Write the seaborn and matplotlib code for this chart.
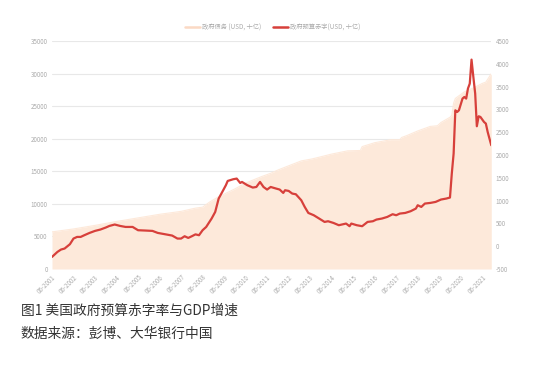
import matplotlib
matplotlib.use("Agg")
import matplotlib.pyplot as plt
from matplotlib.lines import Line2D
import seaborn as sns
import pandas as pd

# ---------------- data ----------------
debt_dates = ["2001-06", "2002-06", "2003-06", "2004-06", "2005-06", "2006-06", "2007-06",
              "2008-02", "2008-06", "2008-10", "2009-03", "2009-06", "2009-12", "2010-06",
              "2011-03", "2011-08", "2011-12", "2012-06", "2013-01", "2013-07", "2013-10",
              "2014-06", "2015-03", "2015-10", "2015-11", "2016-06", "2017-03", "2017-08",
              "2017-09", "2017-12", "2018-06", "2019-01", "2019-05", "2019-07", "2019-12",
              "2020-01", "2020-02", "2020-03", "2020-08", "2021-01", "2021-06", "2021-08",
              "2021-11"]
debt_values = [5700, 6150, 6700, 7300, 7850, 8400, 8850,
               9350, 9500, 10300, 11100, 11500, 12300, 13200,
               14200, 14700, 15200, 15850, 16600, 16900, 17100,
               17650, 18150, 18200, 18800, 19400, 19850, 19850,
               20200, 20500, 21200, 21900, 22000, 22500, 23300,
               23600, 25500, 26200, 27200, 27800, 28500, 28700,
               30000]

deficit_dates = ["2001-06", "2001-09", "2001-11", "2002-01", "2002-04", "2002-06", "2002-08",
                 "2002-10", "2002-12", "2003-03", "2003-06", "2003-09", "2003-12", "2004-02",
                 "2004-05", "2004-08", "2004-11", "2005-03", "2005-06", "2005-10", "2006-02",
                 "2006-05", "2006-09", "2007-01", "2007-04", "2007-06", "2007-08", "2007-10",
                 "2007-12", "2008-02", "2008-04", "2008-06", "2008-08", "2008-11", "2009-01",
                 "2009-03", "2009-05", "2009-07", "2009-08", "2009-11", "2010-01", "2010-03",
                 "2010-04", "2010-07", "2010-10", "2010-12", "2011-02", "2011-04", "2011-06",
                 "2011-08", "2011-11", "2012-01", "2012-03", "2012-04", "2012-06", "2012-08",
                 "2012-10", "2013-01", "2013-03", "2013-05", "2013-08", "2013-11", "2014-02",
                 "2014-04", "2014-07", "2014-10", "2015-02", "2015-04", "2015-05", "2015-08",
                 "2015-11", "2016-02", "2016-05", "2016-07", "2016-10", "2017-01", "2017-04",
                 "2017-06", "2017-08", "2017-11", "2018-02", "2018-05", "2018-06", "2018-08",
                 "2018-10", "2019-01", "2019-04", "2019-07", "2019-10", "2019-12", "2020-01",
                 "2020-02", "2020-03", "2020-04", "2020-05", "2020-07", "2020-08", "2020-09",
                 "2020-10", "2020-11", "2020-12", "2021-01", "2021-02", "2021-03", "2021-04",
                 "2021-05", "2021-07", "2021-08", "2021-09", "2021-11"]
deficit_values = [-235, -125, -73, -51, 44, 168, 204,
                  204, 241, 292, 336, 366, 410, 445,
                  476, 445, 423, 423, 351, 344, 336,
                  292, 263, 234, 168, 168, 219, 182,
                  219, 260, 241, 351, 423, 607, 752,
                  1046, 1191, 1338, 1432, 1469, 1484, 1388,
                  1410, 1338, 1287, 1300, 1410, 1300, 1243,
                  1300, 1265, 1243, 1169, 1228, 1213, 1155,
                  1140, 1009, 862, 730, 680, 607, 533,
                  548, 511, 461, 497, 439, 497, 461,
                  439, 533, 548, 585, 607, 643, 702,
                  680, 716, 730, 768, 826, 899, 862,
                  936, 950, 972, 1024, 1046, 1068, 1594,
                  2033, 2982, 2945, 2982, 3239, 3274, 3239,
                  3458, 3568, 4094, 3713, 3349, 2632, 2851,
                  2836, 2726, 2691, 2507, 2215]

tick_years = list(range(2001, 2022))
left_ticks = [0, 5000, 10000, 15000, 20000, 25000, 30000, 35000]
right_ticks = [-500, 0, 500, 1000, 1500, 2000, 2500, 3000, 3500, 4000, 4500]

legend_labels = ["政府债务 (USD, 十亿)", "政府预算赤字(USD, 十亿)"]
title_text = "图1 美国政府预算赤字率与GDP增速"
source_text = "数据来源：彭博、大华银行中国"

# ---------------- frames ----------------
debt = pd.DataFrame({"date": pd.to_datetime(debt_dates), "value": debt_values})
deficit = pd.DataFrame({"date": pd.to_datetime(deficit_dates), "value": deficit_values})

sns.set_theme(style="white")
plt.rcParams["font.family"] = ["Noto Sans CJK SC", "DejaVu Sans"]

AREA = "#fde9da"
RED = "#d7403b"
TICKC = "#ababab"
GRID = "#e8e8e8"

fig = plt.figure(figsize=(5.45, 3.67), dpi=100)
ax = fig.add_axes([0.0954, 0.267, 0.806, 0.621])
ax2 = ax.twinx()

ax.fill_between(debt["date"], debt["value"], 0, color=AREA, lw=0, zorder=2)
sns.lineplot(data=debt, x="date", y="value", ax=ax, color=AREA, lw=0.8, zorder=3)
sns.lineplot(data=deficit, x="date", y="value", ax=ax2, color=RED, lw=1.6, zorder=4)

ax.set_ylim(0, 35000)
ax2.set_ylim(-500, 4500)
ax.set_xlim(pd.Timestamp("2001-06-01"), pd.Timestamp("2021-11-01"))

ax.set_yticks(left_ticks)
ax.set_yticklabels([str(v) for v in left_ticks])
ax2.set_yticks(right_ticks)
ax2.set_yticklabels([str(v) for v in right_ticks])

xt = [pd.Timestamp(f"{y}-06-01") for y in tick_years]
ax.set_xticks(xt)
ax.set_xticklabels([f"06-{y}" for y in tick_years], rotation=45, ha="right",
                   rotation_mode="anchor")

for a in (ax, ax2):
    a.set_xlabel("")
    a.set_ylabel("")
    for s in a.spines.values():
        s.set_visible(False)
    a.tick_params(axis="both", length=0, labelsize=4.5, labelcolor=TICKC, pad=3)
    a.grid(False)

ax.set_axisbelow(True)
ax.yaxis.grid(True, color=GRID, lw=0.8, zorder=0)

handles = [Line2D([], [], color="#fbd9c4", lw=1.8), Line2D([], [], color=RED, lw=1.8)]
fig.legend(handles, legend_labels, loc="center", bbox_to_anchor=(0.5, 0.926), ncol=2,
           frameon=False, fontsize=4.5, labelcolor=TICKC, handlelength=2.4,
           columnspacing=1.8, handletextpad=0.4)

fig.text(0.038, 0.152, title_text, fontsize=9.9, color="#333333", va="center", ha="left")
fig.text(0.038, 0.090, source_text, fontsize=9.9, color="#333333", va="center", ha="left")

fig.savefig("out.png", dpi=100, facecolor="white")
